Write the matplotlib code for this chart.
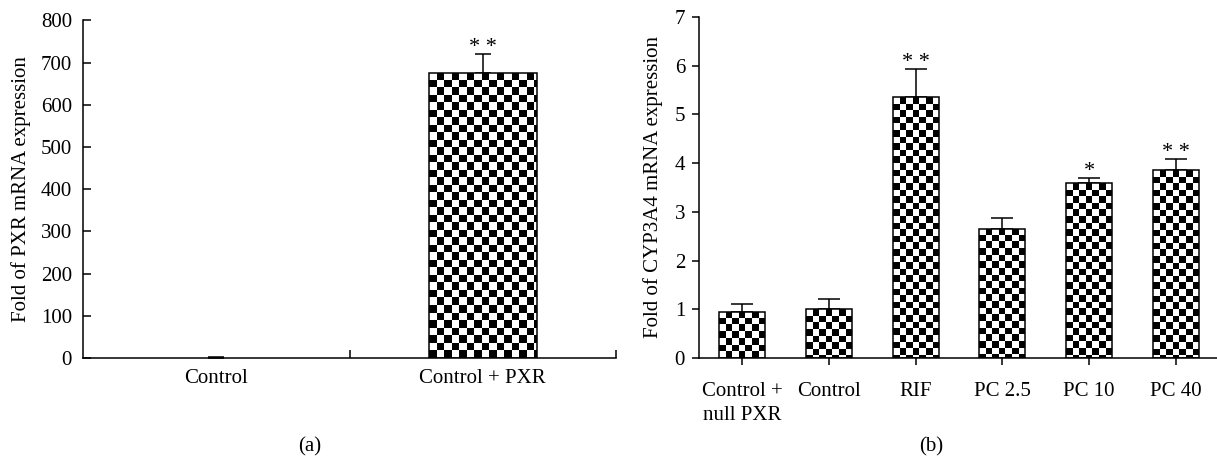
import numpy as np
import matplotlib
matplotlib.use('Agg')
import matplotlib.pyplot as plt

# --- data ---
labels_a = ['Control', 'Control + PXR']
pxr_mean = [0.5, 676]
pxr_err = [3, 44]
stars_a = ['', '* *']

labels_b = ['Control +\nnull PXR', 'Control', 'RIF', 'PC 2.5', 'PC 10', 'PC 40']
cyp_mean = [0.95, 1.0, 5.35, 2.65, 3.59, 3.85]
cyp_err = [0.16, 0.22, 0.58, 0.23, 0.11, 0.24]
stars_b = ['', '', '* *', '', '*', '* *']

plt.rcParams['font.family'] = ['Liberation Serif', 'DejaVu Serif']
plt.rcParams['font.size'] = 15

W, H = 1217, 463
fig = plt.figure(figsize=(W / 100, H / 100), dpi=100)


def px_box(left, right, top, bottom):
    return [left / W, 1 - bottom / H, (right - left) / W, (bottom - top) / H]


def checker_bars(ax, x, vals, width, sq_px):
    # bar outlines plus a clipped checkerboard image inside each bar
    bars = ax.bar(x, vals, width=width, color='white', edgecolor='none',
                  linewidth=0, zorder=2)
    inv = ax.transData.inverted()
    p0 = inv.transform((0, 0))
    p1 = inv.transform((sq_px, sq_px))
    sqx, sqy = p1[0] - p0[0], p1[1] - p0[1]
    for b in bars:
        x0, w, h = b.get_x(), b.get_width(), b.get_height()
        if h < sqy:
            continue
        nx = int(np.ceil(w / sqx)) + 1
        ny = int(np.ceil(h / sqy)) + 1
        board = np.indices((ny, nx)).sum(axis=0) % 2
        im = ax.imshow(1 - board, cmap='gray', interpolation='nearest',
                       aspect='auto', origin='upper', zorder=2.5,
                       extent=(x0, x0 + nx * sqx, h - ny * sqy, h))
        im.set_clip_path(b)
        edge = plt.Rectangle((x0, 0), w, h, fill=False, edgecolor='black',
                             linewidth=1.1, zorder=3)
        ax.add_patch(edge)
    return bars


def stars(ax, x, vals, errs, marks):
    for xi, m, e, s in zip(x, vals, errs, marks):
        if s:
            ax.annotate(s, (xi, m + e), xytext=(0, 1.5), textcoords='offset points',
                        ha='center', va='baseline', fontsize=16)


# ---------- panel (a) ----------
ax1 = fig.add_axes(px_box(83, 616, 20.3, 358))
ax1.set_xlim(-0.5, 1.5)
ax1.set_ylim(0, 800)
xa = np.arange(len(labels_a))
checker_bars(ax1, xa, pxr_mean, 0.405, 7.5)
ax1.errorbar(xa, pxr_mean, yerr=[np.zeros(len(xa)), pxr_err], fmt='none',
             ecolor='black', elinewidth=1.1, capsize=6, capthick=1.1, zorder=1.5)
stars(ax1, xa, pxr_mean, pxr_err, stars_a)
ax1.set_xticks([0.5, 1.5])
ax1.set_xticklabels([])
ax1.set_xticks(xa, minor=True)
ax1.set_xticklabels(labels_a, minor=True)
ax1.tick_params(axis='x', which='major', direction='in', length=6, width=1.1)
ax1.tick_params(axis='x', which='minor', length=0, pad=8)
ax1.set_yticks(np.arange(0, 801, 100))
ax1.tick_params(axis='y', direction='in', length=6, width=1.1, pad=8)
ax1.set_ylabel('Fold of PXR mRNA expression')
ax1.yaxis.set_label_coords(-0.097, 0.5)
for sp in ['top', 'right']:
    ax1.spines[sp].set_visible(False)
for sp in ['left', 'bottom']:
    ax1.spines[sp].set_linewidth(1.1)

# ---------- panel (b) ----------
ax2 = fig.add_axes(px_box(699, 1219, 17, 358))
ax2.set_xlim(-0.5, 5.5)
ax2.set_ylim(0, 7)
xb = np.arange(len(labels_b))
checker_bars(ax2, xb, cyp_mean, 0.53, 6.6)
ax2.errorbar(xb, cyp_mean, yerr=[np.zeros(len(xb)), cyp_err], fmt='none',
             ecolor='black', elinewidth=1.1, capsize=8, capthick=1.1, zorder=1.5)
stars(ax2, xb, cyp_mean, cyp_err, stars_b)
ax2.set_xticks(xb)
ax2.set_xticklabels(labels_b, multialignment='center', linespacing=1.35)
ax2.tick_params(axis='x', direction='out', length=5, width=1.1, pad=12)
ax2.set_yticks(np.arange(0, 8, 1))
ax2.tick_params(axis='y', direction='out', length=5, width=1.1, pad=5)
ax2.set_ylabel('Fold of CYP3A4 mRNA expression')
ax2.yaxis.set_label_coords(-0.069, 0.5)
for sp in ['top', 'right']:
    ax2.spines[sp].set_visible(False)
for sp in ['left', 'bottom']:
    ax2.spines[sp].set_linewidth(1.1)

fig.text(310 / W, 1 - 447 / H, '(a)', ha='center', va='center', fontsize=15)
fig.text(931 / W, 1 - 447 / H, '(b)', ha='center', va='center', fontsize=15)

fig.savefig('out.png', dpi=100)
